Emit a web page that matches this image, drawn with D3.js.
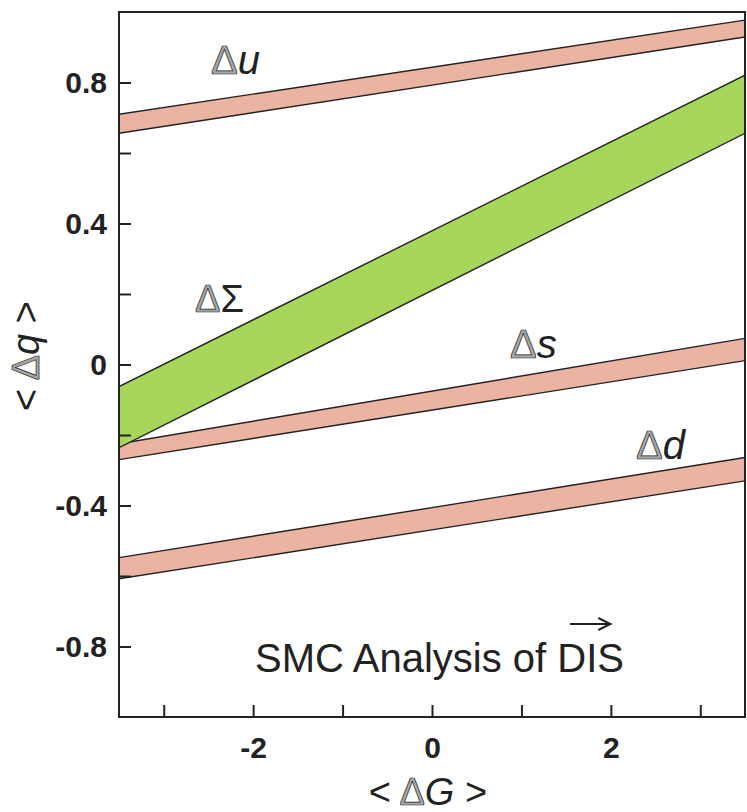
<!DOCTYPE html>
<html>
<head>
<meta charset="utf-8">
<script src="https://cdn.jsdelivr.net/npm/d3@7"></script>
<style>
  body { margin: 0; background: #fff; }
  svg { display: block; }
  text { font-family: "Liberation Sans", Arial, sans-serif; }
</style>
</head>
<body>
<div id="chart"></div>
<script>
// values: each band is straight, so its two ends are enough
let gluon = [-3.5, 3.5]            // <ΔG> at left and right edge
let bandNames = ["Δu", "Δs", "Δd", "ΔΣ"]
let bandLow = [[0.656, 0.929], [-0.270, 0.011], [-0.608, -0.330], [-0.236, 0.656]]
let bandHigh = [[0.710, 0.977], [-0.225, 0.074], [-0.548, -0.264], [-0.0625, 0.821]]
let bandColor = ["#ebb3a1", "#ebb3a1", "#ebb3a1", "#a6d65a"]

let xMajor = [-2, 0, 2]
let xMinor = [-3, -1, 1, 3]
let yMajor = [0.8, 0.4, 0, -0.4, -0.8]
let yMinor = [0.6, 0.2, -0.2, -0.6]

let width = 747, height = 812
let plotLeft = 119, plotRight = 745, plotTop = 12, plotBottom = 717

let svg = d3.select("#chart").append("svg")
    .attr("width", width).attr("height", height)

let x = d3.scaleLinear().domain([-3.5, 3.5]).range([plotLeft, plotRight])
let y = d3.scaleLinear().domain([-1, 1]).range([plotBottom, plotTop])

svg.append("clipPath").attr("id", "plotclip")
    .append("rect").attr("x", plotLeft).attr("y", plotTop)
    .attr("width", plotRight - plotLeft).attr("height", plotBottom - plotTop)

// bands, green one drawn last so it lies over Δs at the left
let area = d3.area()
    .x(d => x(d.g))
    .y0(d => y(d.lo))
    .y1(d => y(d.hi))

let bands = bandNames.map((name, i) => gluon.map((g, j) => ({ g: g, lo: bandLow[i][j], hi: bandHigh[i][j] })))

let plot = svg.append("g").attr("clip-path", "url(#plotclip)")
bands.forEach((b, i) => {
    plot.append("path").datum(b)
        .attr("d", area)
        .attr("fill", bandColor[i])
        .attr("stroke", "none")
    // dark edge lines
    plot.append("path").datum(b)
        .attr("d", d3.line().x(d => x(d.g)).y(d => y(d.lo)))
        .attr("stroke", "#222").attr("stroke-width", 1.4).attr("fill", "none")
    plot.append("path").datum(b)
        .attr("d", d3.line().x(d => x(d.g)).y(d => y(d.hi)))
        .attr("stroke", "#222").attr("stroke-width", 1.4).attr("fill", "none")
})

// frame
svg.append("rect")
    .attr("x", plotLeft).attr("y", plotTop)
    .attr("width", plotRight - plotLeft).attr("height", plotBottom - plotTop)
    .attr("fill", "none").attr("stroke", "#222").attr("stroke-width", 2)

// axes, ticks pointing inward; plain hyphen for the minus like the scan
let fmt = d => d === 0 ? "0" : d3.format(".1f")(d).replace("−", "-")
let yAxis = svg.append("g").attr("transform", `translate(${plotLeft},0)`)
    .call(d3.axisLeft(y).tickValues(yMajor).tickSize(-12).tickPadding(12).tickFormat(fmt))
let yAxisMinor = svg.append("g").attr("transform", `translate(${plotLeft},0)`)
    .call(d3.axisLeft(y).tickValues(yMinor).tickSize(-12).tickFormat(""))
let xAxis = svg.append("g").attr("transform", `translate(0,${plotBottom})`)
    .call(d3.axisBottom(x).tickValues(xMajor).tickSize(-12).tickPadding(20)
        .tickFormat(d => String(d).replace("−", "-")))
let xAxisMinor = svg.append("g").attr("transform", `translate(0,${plotBottom})`)
    .call(d3.axisBottom(x).tickValues(xMinor).tickSize(-12).tickFormat(""))

svg.selectAll(".domain").remove()
svg.selectAll(".tick line").attr("stroke", "#222").attr("stroke-width", 2)
svg.selectAll(".tick text")
    .attr("font-family", "'Liberation Sans', Arial, sans-serif")
    .attr("font-size", 30).attr("font-weight", "bold").attr("fill", "#222")

// label helper: grey Δ with dark outline, like the scan
function deltaLabel(g, px, py, size, anchor) {
    return g.append("text").attr("x", px).attr("y", py)
        .attr("font-size", size).attr("fill", "#222")
        .attr("text-anchor", anchor || "start")
}
function addDelta(t, prefix, letter, suffix, italic) {
    if (prefix) t.append("tspan").text(prefix)
    t.append("tspan").text("Δ").attr("fill", "#a8a8a8").attr("stroke", "#222").attr("stroke-width", 0.7)
    t.append("tspan").text(letter).attr("font-style", italic ? "italic" : "normal")
    if (suffix) t.append("tspan").text(suffix)
}

let labelPos = [[211, 74, 40], [510, 358, 40], [636, 459, 40], [195, 312, 38]]
bandNames.forEach((name, i) => {
    let t = deltaLabel(svg, labelPos[i][0], labelPos[i][1], labelPos[i][2])
    addDelta(t, "", name.slice(1), "", name !== "ΔΣ")
})

// axis titles
let xt = deltaLabel(svg, 428, 805, 38, "middle")
addDelta(xt, "< ", "G", " >", true)
let yt = svg.append("text")
    .attr("transform", "translate(39,356) rotate(-90)")
    .attr("font-size", 38).attr("fill", "#222").attr("text-anchor", "middle")
addDelta(yt, "< ", "q", " >", true)

// note inside the plot, arrow placed over the measured "DIS"
let noteX = 255, noteY = 672
let noteText = "SMC Analysis of DIS"
let note = svg.append("text").attr("x", noteX).attr("y", noteY)
    .attr("font-size", 40).attr("fill", "#222")
    .text(noteText)
let total = note.node().getComputedTextLength()
let disLen = note.node().getSubStringLength(noteText.length - 3, 3)
let disStart = noteX + total - disLen
let arrowY = 624
let ax1 = disStart + disLen * 0.19, ax2 = disStart + disLen * 0.78
svg.append("line").attr("x1", ax1).attr("x2", ax2).attr("y1", arrowY).attr("y2", arrowY)
    .attr("stroke", "#222").attr("stroke-width", 2)
svg.append("path").attr("d", `M${ax2 - 11},${arrowY - 6} L${ax2 + 1},${arrowY} L${ax2 - 11},${arrowY + 6}`)
    .attr("fill", "none").attr("stroke", "#222").attr("stroke-width", 2)
</script>
</body>
</html>
